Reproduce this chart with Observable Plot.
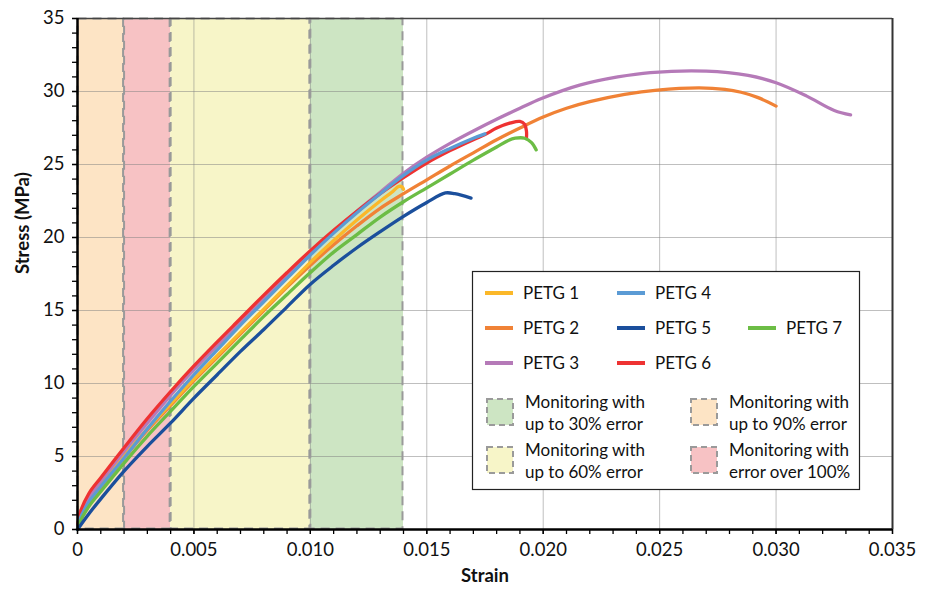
<!DOCTYPE html>
<html>
<head>
<meta charset="utf-8">
<script src="https://cdn.jsdelivr.net/npm/d3@7"></script>
<script src="https://cdn.jsdelivr.net/npm/@observablehq/plot@0.6"></script>
<style>
  html, body { margin: 0; padding: 0; background: #fff; }
  #chart svg { display: block; }
</style>
</head>
<body>
<div id="chart"></div>
<script>
// ---- Data (strain, stress in MPa) ----
const PETG1 = [[0,0],[0.0001,0.8],[0.0005,2.0],[0.001,3.1],[0.002,5.05],[0.003,6.9],[0.004,8.6],[0.005,10.3],[0.006,11.9],[0.007,13.5],[0.008,15.1],[0.009,16.7],[0.010,18.3],[0.011,19.8],[0.012,21.2],[0.013,22.5],[0.0135,23.1],[0.0138,23.5],[0.01395,23.45],[0.0140,23.3]];
const PETG2 = [[0,0],[0.0001,0.6],[0.0005,1.8],[0.001,2.9],[0.002,4.9],[0.003,6.8],[0.004,8.5],[0.005,10.2],[0.006,11.8],[0.007,13.4],[0.008,15.0],[0.009,16.6],[0.010,18.1],[0.011,19.5],[0.012,20.8],[0.013,22.0],[0.014,23.0],[0.015,23.95],[0.016,24.9],[0.017,25.8],[0.018,26.7],[0.019,27.5],[0.020,28.25],[0.021,28.85],[0.022,29.3],[0.0235,29.8],[0.0249,30.1],[0.0267,30.25],[0.0278,30.15],[0.0285,29.95],[0.0292,29.6],[0.0300,29.0]];
const PETG3 = [[0,0],[0.0001,0.9],[0.0005,2.2],[0.001,3.3],[0.002,5.35],[0.003,7.3],[0.004,9.2],[0.005,10.95],[0.006,12.6],[0.007,14.2],[0.008,15.8],[0.009,17.4],[0.010,18.95],[0.011,20.4],[0.012,21.8],[0.013,23.1],[0.014,24.4],[0.015,25.5],[0.016,26.45],[0.017,27.3],[0.018,28.1],[0.019,28.85],[0.0199,29.5],[0.0216,30.45],[0.0232,31.0],[0.0246,31.3],[0.027,31.4],[0.0288,31.1],[0.030,30.6],[0.0313,29.7],[0.0325,28.7],[0.0332,28.4]];
const PETG4 = [[0,0],[0.0001,0.7],[0.0005,1.9],[0.001,2.95],[0.002,4.9],[0.003,6.9],[0.004,8.8],[0.005,10.6],[0.006,12.3],[0.007,14.0],[0.008,15.6],[0.009,17.2],[0.010,18.8],[0.011,20.3],[0.012,21.7],[0.013,23.0],[0.014,24.25],[0.015,25.3],[0.016,26.1],[0.017,26.8],[0.0175,27.1]];
const PETG5 = [[0,0],[0.0005,1.1],[0.001,2.1],[0.002,4.0],[0.003,5.7],[0.004,7.3],[0.005,9.0],[0.006,10.6],[0.007,12.2],[0.008,13.7],[0.009,15.25],[0.010,16.8],[0.011,18.1],[0.012,19.3],[0.013,20.4],[0.014,21.45],[0.015,22.4],[0.0158,23.05],[0.0162,23.0],[0.0169,22.7]];
const PETG6 = [[0,0],[0.0001,1.1],[0.0005,2.5],[0.001,3.55],[0.002,5.6],[0.003,7.6],[0.004,9.45],[0.005,11.2],[0.006,12.85],[0.007,14.45],[0.008,16.05],[0.009,17.6],[0.010,19.1],[0.011,20.5],[0.012,21.8],[0.013,23.0],[0.014,24.1],[0.015,25.1],[0.016,25.95],[0.017,26.7],[0.0175,27.05],[0.018,27.5],[0.0186,27.85],[0.019,27.95],[0.0192,27.75],[0.01928,27.3],[0.01928,26.8]];
const PETG7 = [[0,0],[0.0001,0.5],[0.0005,1.6],[0.001,2.6],[0.002,4.55],[0.003,6.4],[0.004,8.1],[0.005,9.8],[0.006,11.4],[0.007,13.0],[0.008,14.6],[0.009,16.1],[0.010,17.6],[0.011,19.0],[0.012,20.2],[0.013,21.4],[0.014,22.45],[0.015,23.4],[0.016,24.35],[0.017,25.3],[0.018,26.2],[0.0185,26.65],[0.0188,26.8],[0.0192,26.8],[0.0195,26.5],[0.0197,26.0]];

const seriesNames  = ["PETG 1","PETG 2","PETG 3","PETG 4","PETG 5","PETG 6","PETG 7"];
const seriesData   = [PETG1, PETG2, PETG3, PETG4, PETG5, PETG6, PETG7];
const seriesColors = ["#FBB829","#F08236","#B57AB8","#5B9BD5","#1B4F9C","#EE3232","#6CBD45"];
const drawOrder    = [1, 0, 2, 5, 3, 6, 4];

// Monitoring zones
const zoneStart  = [0, 0.002, 0.004, 0.010];
const zoneEnd    = [0.002, 0.004, 0.010, 0.014];
const zoneColors = ["#FDE4C5","#F7C2C4","#F7F5C8","#CDE5C3"];
const zoneLabels = ["Monitoring with up to 90% error","Monitoring with error over 100%","Monitoring with up to 60% error","Monitoring with up to 30% error"];

// Ticks
const xMajor = [0, 0.005, 0.010, 0.015, 0.020, 0.025, 0.030, 0.035];
const xMinor = d3.range(0, 36).map(i => i / 1000);
const yMajor = [0, 5, 10, 15, 20, 25, 30, 35];
const yMinor = d3.range(0, 36);

// ---- Build tables ----
const lineRows = drawOrder.flatMap(i => seriesData[i].map(([x, y]) => ({series: seriesNames[i], x, y, color: seriesColors[i], order: i})));
const zones = zoneStart.map((s, i) => ({x1: s, x2: zoneEnd[i], fill: zoneColors[i], label: zoneLabels[i]}));

const font = "Lato, 'Open Sans', sans-serif";

const chart = Plot.plot({
  width: 932,
  height: 594,
  marginLeft: 77,
  marginRight: 40,
  marginTop: 18,
  marginBottom: 65,
  style: {fontFamily: font, fontSize: "18px", color: "#111", background: "#fff"},
  x: {domain: [0, 0.035], label: null},
  y: {domain: [0, 35], label: null},
  marks: [
    Plot.rect(zones, {x1: "x1", x2: "x2", y1: 0, y2: 35, fill: "fill"}),
    Plot.gridX(xMajor.slice(1), {stroke: "#808080", strokeOpacity: 0.5, strokeWidth: 1}),
    Plot.gridY(yMajor.slice(1), {stroke: "#808080", strokeOpacity: 0.5, strokeWidth: 1}),
    Plot.rect(zones, {x1: "x1", x2: "x2", y1: 0, y2: 35, fill: "none", stroke: "#9a9a9a", strokeWidth: 2, strokeDasharray: "9,6", inset: 0.5}),
    Plot.line(lineRows, {x: "x", y: "y", z: "series", stroke: "color", strokeWidth: 3.3, curve: "catmull-rom", strokeLinecap: "round", strokeLinejoin: "round"}),
    Plot.ruleY([35], {stroke: "#444", strokeWidth: 1.5}),
    Plot.ruleX([0.035], {stroke: "#333", strokeWidth: 2}),
    Plot.axisX(xMinor, {label: null, tickSize: 5, tickFormat: () => "", stroke: "#000", strokeWidth: 1.3}),
    Plot.axisX(xMajor, {label: null, tickSize: 5, tickPadding: 8, tickFormat: d => d === 0 ? "0" : d.toFixed(3), fontSize: 18.5, stroke: "#000", strokeWidth: 1.3, fill: "#111"}),
    Plot.axisY(yMinor, {label: null, tickSize: 5, tickFormat: () => "", stroke: "#000", strokeWidth: 1.3}),
    Plot.axisY(yMajor, {label: null, tickSize: 5, tickPadding: 8, fontSize: 18.5, stroke: "#000", strokeWidth: 1.3, fill: "#111"}),
    Plot.ruleY([0], {stroke: "#000", strokeWidth: 2.5}),
    Plot.ruleX([0], {stroke: "#000", strokeWidth: 2.5}),
    Plot.text(["Strain"], {frameAnchor: "bottom", dy: 52, fontSize: 18.5, fontWeight: "bold", fill: "#111"}),
    Plot.text(["Stress (MPa)"], {frameAnchor: "left", dx: -54, rotate: -90, fontSize: 18.5, fontWeight: "bold", fill: "#111"})
  ]
});

document.getElementById("chart").appendChild(chart);

// ---- Legend (inside plot area) ----
const svg = d3.select(chart);
const lg = svg.append("g").attr("font-family", font).attr("fill", "#111").attr("text-anchor", "start");
lg.append("rect").attr("x", 472.5).attr("y", 271.5).attr("width", 387).attr("height", 218)
  .attr("fill", "#fff").attr("stroke", "#222").attr("stroke-width", 1.2);

const lineCols = [485, 617, 748];
const lineRowsY = [293, 328, 363];
const linePos = [[0,0],[0,1],[0,2],[1,0],[1,1],[1,2],[2,1]];
seriesNames.forEach((name, i) => {
  const [c, r] = linePos[i];
  const x = lineCols[c], y = lineRowsY[r];
  lg.append("line").attr("x1", x).attr("x2", x + 28).attr("y1", y).attr("y2", y)
    .attr("stroke", seriesColors[i]).attr("stroke-width", 4);
  lg.append("text").attr("x", x + 38).attr("y", y).attr("dy", "0.35em")
    .attr("font-size", 17).text(name);
});

// zone legend: order [30%, 90%, 60%, >100%]
const patchItems = [[3, 487, 399], [0, 691, 399], [2, 487, 447], [1, 691, 447]];
patchItems.forEach(([zi, x, y]) => {
  lg.append("rect").attr("x", x).attr("y", y).attr("width", 26).attr("height", 26)
    .attr("fill", zoneColors[zi]).attr("stroke", "#9a9a9a").attr("stroke-width", 2).attr("stroke-dasharray", "6,4");
  const words = zoneLabels[zi];
  const split = words.indexOf(" ", 11);
  const l1 = words.slice(0, split), l2 = words.slice(split + 1);
  lg.append("text").attr("x", x + 38).attr("y", y + 3).attr("dy", "0.35em").attr("font-size", 17).text(l1);
  lg.append("text").attr("x", x + 38).attr("y", y + 25).attr("dy", "0.35em").attr("font-size", 17).text(l2);
});
</script>
</body>
</html>
